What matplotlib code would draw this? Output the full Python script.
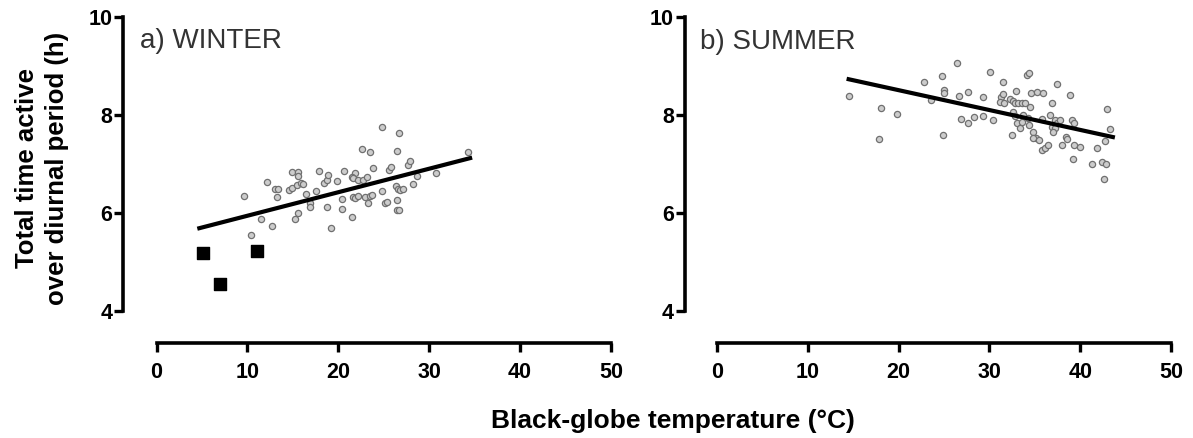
"""Activity time vs black-globe temperature, winter and summer panels."""
import matplotlib
matplotlib.use("Agg")
import matplotlib.pyplot as plt

plt.rcParams["font.family"] = ["Liberation Sans", "DejaVu Sans"]

# winter observations (black-globe temp in C, active hours)
winter_temp = [9.6, 10.35, 11.5, 12.15, 12.75, 13.0, 13.35, 13.2, 14.55, 14.95,
               15.4, 15.85, 16.1, 14.95, 15.6, 15.6, 15.2, 15.55, 16.4, 16.85,
               16.85, 17.5, 17.85, 18.4, 18.7, 18.85, 18.8, 19.15, 19.8, 20.45,
               20.35, 20.65, 21.45, 21.8, 21.45, 21.6, 22.15, 21.6, 21.8, 22.15,
               22.65, 23.45, 22.7, 23.1, 22.9, 23.25, 23.45, 23.65, 23.8, 24.75,
               24.85, 25.1, 25.3, 25.6, 25.75, 26.3, 26.55, 26.75, 27.15, 26.45,
               26.7, 26.4, 26.45, 26.7, 27.7, 27.85, 28.25, 28.6, 30.8, 34.3]
winter_time = [6.35, 5.55, 5.88, 6.63, 5.73, 6.48, 6.48, 6.33, 6.46, 6.52,
               6.57, 6.61, 6.59, 6.83, 6.83, 6.76, 5.88, 5.99, 6.39, 6.20,
               6.13, 6.45, 6.86, 6.62, 6.67, 6.78, 6.13, 5.69, 6.65, 6.08,
               6.28, 6.86, 5.91, 6.82, 6.74, 6.71, 6.67, 6.32, 6.30, 6.35,
               7.31, 7.24, 6.67, 6.74, 6.33, 6.20, 6.35, 6.37, 6.92, 7.76,
               6.45, 6.21, 6.23, 6.88, 6.93, 6.55, 6.48, 6.46, 6.48, 7.27,
               7.63, 6.27, 6.06, 6.06, 6.98, 7.07, 6.59, 6.76, 6.81, 7.24]
# winter points drawn as black squares
winter_sq_temp = [5.1, 6.95, 11.05]
winter_sq_time = [5.18, 4.55, 5.22]
winter_fit_x = [4.7, 34.5]
winter_fit_y = [5.69, 7.12]

summer_temp = [14.55, 18.1, 17.8, 19.8, 22.8, 23.55, 24.8, 25.05, 24.95, 24.85,
               26.4, 26.6, 27.7, 26.85, 27.7, 28.35, 30.05, 29.3, 29.35, 30.45,
               31.45, 31.25, 31.45, 31.15, 31.6, 32.25, 32.65, 32.95, 32.8, 33.2,
               33.55, 33.9, 34.1, 34.4, 34.55, 35.2, 35.95, 34.45, 32.65, 32.8,
               33.0, 33.35, 33.55, 33.75, 34.3, 34.4, 32.45, 34.85, 35.15, 34.75,
               35.5, 35.75, 36.1, 36.5, 35.75, 36.95, 37.5, 36.65, 37.2, 37.4,
               37.8, 36.85, 37.2, 37.05, 38.05, 38.45, 38.6, 38.9, 39.15, 39.3,
               39.3, 40.0, 39.25, 41.25, 41.8, 42.35, 42.9, 42.6, 43.0, 43.3, 42.75]
summer_time = [8.39, 8.14, 7.52, 8.03, 8.67, 8.31, 8.80, 8.51, 8.44, 7.59,
               9.06, 8.39, 8.46, 7.91, 7.83, 7.95, 8.87, 8.37, 7.97, 7.90,
               8.67, 8.37, 8.42, 8.27, 8.25, 8.32, 8.29, 8.48, 8.24, 8.25,
               8.24, 8.25, 8.82, 8.86, 8.44, 8.46, 8.44, 8.16, 8.07, 7.97,
               7.83, 7.73, 7.86, 8.00, 7.93, 7.80, 7.59, 7.66, 7.54, 7.54,
               7.49, 7.29, 7.32, 7.39, 7.91, 8.24, 8.63, 8.00, 7.90, 7.83,
               7.90, 7.76, 7.73, 7.66, 7.39, 7.56, 7.52, 8.41, 7.90, 7.84,
               7.39, 7.34, 7.10, 7.01, 7.33, 7.05, 7.01, 6.69, 8.12, 7.71, 7.46]
summer_fit_x = [14.5, 43.6]
summer_fit_y = [8.73, 7.55]

W, H = 1193, 438
fig = plt.figure(figsize=(W / 100, H / 100), dpi=100)


def px_axes(left, right, top, bottom):
    return fig.add_axes([left / W, 1 - bottom / H, (right - left) / W, (bottom - top) / H])


def style(ax, xmin):
    ax.set_xlim(xmin, 50.5)
    ax.set_ylim(3.347, 10.2)
    for side in ("top", "right"):
        ax.spines[side].set_visible(False)
    for side in ("left", "bottom"):
        ax.spines[side].set_linewidth(2.6)
    ax.spines["left"].set_bounds(4, 10)
    ax.spines["bottom"].set_bounds(0, 50)
    ax.set_xticks([0, 10, 20, 30, 40, 50])
    ax.set_yticks([4, 6, 8, 10])
    ax.tick_params(axis="both", length=6.5, width=2.4, labelsize=15.5, color="black")
    ax.tick_params(axis="x", pad=7)
    ax.tick_params(axis="y", pad=1)
    for lab in ax.get_xticklabels() + ax.get_yticklabels():
        lab.set_fontweight("bold")
    ax.patch.set_visible(False)


dot = dict(s=20, facecolors="#cccccc", edgecolors="#707070", linewidths=0.9, zorder=2)

ax1 = px_axes(123, 615.5, 7.2, 343)
style(ax1, -3.7)
ax1.scatter(winter_temp, winter_time, **dot)
ax1.scatter(winter_sq_temp, winter_sq_time, marker="s", s=64, color="black", zorder=3)
ax1.plot(winter_fit_x, winter_fit_y, color="black", lw=3, zorder=4)

ax2 = px_axes(684.5, 1175.5, 7.2, 343)
style(ax2, -3.58)
ax2.scatter(summer_temp, summer_time, **dot)
ax2.plot(summer_fit_x, summer_fit_y, color="black", lw=3, zorder=4)

fig.text(140 / W, 1 - 48 / H, "a) WINTER", fontsize=20, color="#333333", va="baseline")
fig.text(700 / W, 1 - 49 / H, "b) SUMMER", fontsize=20, color="#333333", va="baseline")

fig.text(42 / W, 1 - 168 / H, "Total time active\nover diurnal period (h)", rotation=90,
         fontsize=18.5, fontweight="bold", ha="center", va="center", linespacing=1.3)
fig.text(673 / W, 1 - 428 / H, "Black-globe temperature (°C)", fontsize=19,
         fontweight="bold", ha="center", va="baseline")

fig.savefig("out.png", dpi=100)
